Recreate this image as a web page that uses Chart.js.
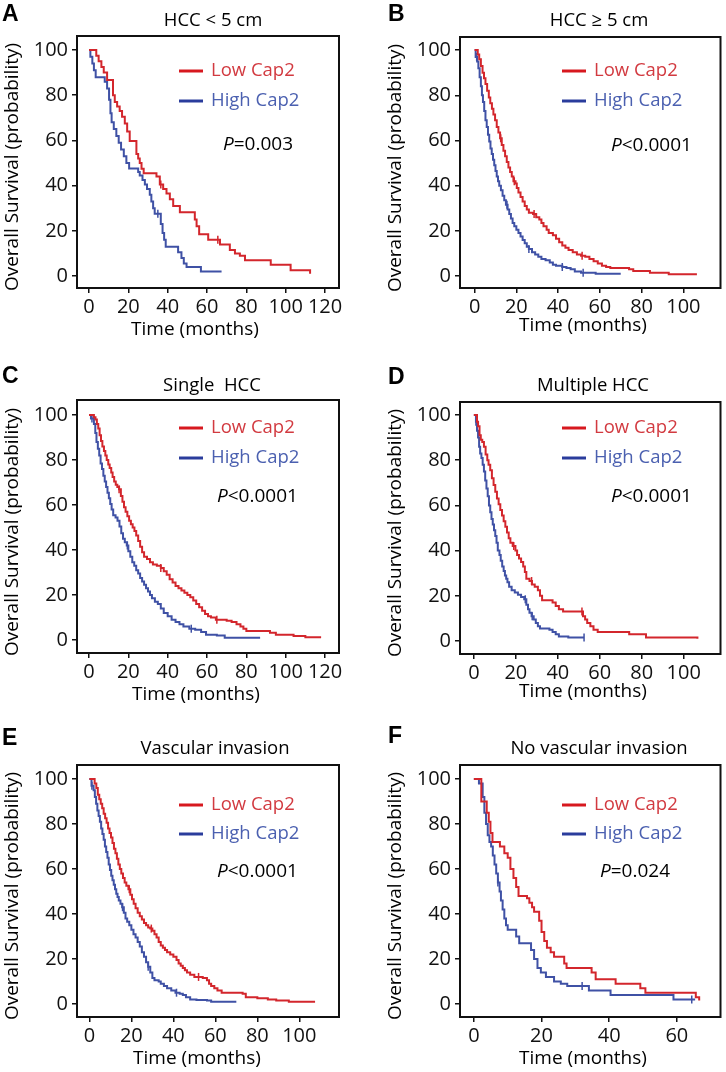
<!DOCTYPE html>
<html>
<head>
<meta charset="utf-8">
<script src="https://cdn.jsdelivr.net/npm/chart.js@4.4.1/dist/chart.umd.min.js"></script>
<style>
  body { margin: 0; background: #fff; }
  #wrap { position: relative; width: 726px; height: 1072px; }
  canvas { position: absolute; }
</style>
</head>
<body>
<div id="wrap">
  <canvas id="pA" width="363" height="357" style="left:0;top:0"></canvas>
  <canvas id="pB" width="363" height="357" style="left:363px;top:0"></canvas>
  <canvas id="pC" width="363" height="357" style="left:0;top:357px"></canvas>
  <canvas id="pD" width="363" height="357" style="left:363px;top:357px"></canvas>
  <canvas id="pE" width="363" height="358" style="left:0;top:714px"></canvas>
  <canvas id="pF" width="363" height="358" style="left:363px;top:714px"></canvas>
</div>
<script>
// ===============================
// DATA (months, survival %)
// ===============================
const yTicks = [0, 20, 40, 60, 80, 100];
const xTicks120 = [0, 20, 40, 60, 80, 100, 120];
const xTicks100 = [0, 20, 40, 60, 80, 100];
const xTicks60 = [0, 20, 40, 60];

// A: HCC < 5 cm
const aLowT = [0, 3.7, 4.9, 6.3, 7.5, 9.2, 12.2, 13.1, 14.3, 15.6, 16.8, 18.2, 19.4, 20.7, 24.1, 25, 25.8, 26.7, 27.8, 34.3, 36, 37.7, 39.4, 41.1, 42.8, 46.2, 53.8, 54.7, 56, 60.6, 66.6, 71.6, 74.2, 76.7, 79.3, 92.4, 102.5, 112.4];
const aLowS = [100, 97.5, 95, 92.5, 90, 86.7, 80, 77, 75, 73, 70.5, 67.5, 64, 59.7, 54, 52, 50, 47.5, 45.5, 44, 40.5, 38.5, 36.5, 34, 31, 28.2, 25, 22, 18.5, 16, 14, 11.5, 10, 9, 7, 5, 2.5, 1];
const aLowCens = [36.5, 65.5];
const aHighT = [0, 0.7, 1.7, 2.5, 3.4, 8, 9.2, 10.2, 10.9, 11.5, 12.6, 13.9, 15.1, 16.3, 17.7, 19, 20.4, 25, 25.8, 27.2, 28.4, 29.5, 30.9, 31.7, 32.6, 33.4, 36.5, 37.4, 38.2, 39, 45.3, 47, 48.2, 49.6, 56.9, 67.4];
const aHighS = [100, 97, 94, 91, 88, 86, 83, 78, 72, 68, 65, 62, 59, 56, 53, 50, 47.6, 46, 44.5, 42.5, 40.5, 38.5, 36, 33, 30, 27.5, 23, 19, 16, 13, 10.5, 8, 5.5, 4, 2, 2];
const aHighCens = [35];

// B: HCC >= 5 cm
const bLowT = [0, 1, 1.5, 2.2, 3, 3.8, 4.5, 5.2, 6, 6.8, 7.5, 8.3, 9, 9.8, 10.6, 11.4, 12.2, 13, 13.8, 14.6, 15.4, 16.2, 17, 17.8, 18.6, 19.6, 20.2, 21, 22, 23, 24, 25, 26, 28, 29.5, 31, 32, 33, 34.5, 35.5, 37.5, 39, 40.5, 42, 43.5, 45, 47, 49, 51, 53, 55, 57, 59, 61, 63, 65, 74, 76, 84, 93, 106.5];
const bLowS = [100, 100, 98, 96, 93, 90, 87.5, 85, 82, 79, 76.5, 74, 71.5, 69, 66, 63.5, 61, 58, 55.5, 53, 50.5, 48, 46, 44, 42, 41, 39, 37, 35, 33, 31, 29.5, 28, 27.5, 26, 25, 23.5, 22, 20.5, 19, 18, 16.5, 15, 13.5, 12.5, 11.5, 10.5, 9.5, 9, 8.5, 7.5, 6.5, 5.5, 4.5, 4, 3.5, 3, 2.2, 1.5, 0.8, 0.8];
const bLowCens = [12.5, 19, 28.5, 51.5];
const bHighT = [0, 0.5, 1.2, 1.8, 2.4, 3, 3.5, 4, 4.6, 5.2, 5.8, 6.4, 7, 7.6, 8.2, 8.8, 9.4, 10, 10.6, 11.2, 11.8, 12.6, 13.4, 14.2, 15, 15.8, 16.6, 17.4, 18.2, 19, 20, 21, 22, 23, 24, 25, 26, 27.5, 29, 30.5, 32, 34, 36, 37.5, 39, 42, 44, 46, 48, 51, 58, 70];
const bHighS = [100, 97, 95, 92, 88, 84, 80, 77, 73, 69, 66, 62.5, 59.5, 56.5, 54, 51.5, 49, 46.5, 44, 42, 40, 38, 35.5, 33.5, 31.5, 29.5, 27.5, 25.5, 23.5, 22, 20.5, 19, 17.5, 16, 14.5, 13, 12, 10.5, 9.5, 8.5, 7.5, 7, 6, 5, 4.5, 4, 3.5, 3, 2, 1.5, 1, 1];
const bHighCens = [1, 15.5, 26, 42, 52];

// C: Single HCC
const cLowT = [0, 2.5, 3.3, 4, 4.7, 5.4, 6.1, 6.8, 7.6, 8.3, 9, 9.8, 10.5, 11.3, 12, 12.8, 13.6, 14.4, 15.3, 16.2, 17, 17.8, 18.6, 19.5, 20.4, 21.3, 22.2, 23.1, 24, 25, 26, 27, 28, 29.5, 31, 32.5, 34.5, 36.5, 38, 39.5, 41, 42.5, 44, 45.5, 47, 48.5, 50, 51.5, 53, 54.5, 56, 57.5, 59, 60.5, 62, 64.5, 70, 72.5, 75, 77, 78.5, 80, 92, 95, 104, 110, 117.5];
const cLowS = [100, 99, 98, 96, 94, 91, 88.5, 86, 84, 82, 80, 78, 76.5, 74.5, 72.5, 70.5, 69, 68, 67, 64, 61.5, 59, 57, 55, 53, 51.5, 50, 48.5, 46.5, 44, 41.5, 39, 37, 36, 34.5, 33.5, 33, 32, 30.5, 29, 27, 25.5, 24, 23, 22, 21, 20, 19, 17.5, 16, 14.5, 13, 11.5, 10.5, 10, 9, 8.5, 8, 7, 6, 5, 4, 3.2, 2.3, 1.8, 1.2, 0.8];
const cLowCens = [15.3, 36.5, 65];
const cHighT = [0, 1, 2.5, 3.2, 3.8, 4.5, 5.2, 5.9, 6.6, 7.3, 8, 8.7, 9.4, 10.1, 10.8, 11.5, 12.3, 13.5, 14.5, 15.5, 16.4, 17.3, 18.2, 19.2, 20, 21, 22, 23, 24, 25, 26, 27, 28, 29, 30, 31, 32, 33.5, 35, 36.5, 38, 40, 42, 44, 46, 48, 51, 54, 57, 59.5, 65, 69, 87];
const cHighS = [100, 98.5, 96, 92, 88, 85, 82, 78.5, 76, 73, 70.5, 68, 65.5, 63, 60.5, 58, 55.5, 54.5, 53, 50.5, 47.5, 45, 43.5, 42, 39.5, 37, 34.5, 33, 31, 29.5, 27.5, 26, 24.5, 23, 21.5, 20, 18.5, 17, 16, 14, 12, 10.5, 9, 8, 7, 6, 5, 4.5, 3.5, 2.3, 2, 1, 1];
const cHighCens = [1.5, 19.5, 52];

// D: Multiple HCC
const dLowT = [0, 1.5, 2, 2.7, 3.3, 4, 4.8, 5.6, 6.4, 7, 7.8, 8.6, 9.4, 10.2, 11, 11.8, 12.6, 13.4, 14.2, 15, 15.8, 16.6, 17.4, 18.5, 19.8, 20.6, 21.5, 22.5, 23.5, 24.3, 25, 26.5, 27.7, 29, 30.5, 31.5, 32.5, 37.5, 39, 40.5, 42.5, 52, 53, 54, 55.5, 57, 59, 74, 82, 106.5];
const dLowS = [100, 97, 95, 91, 89, 88, 86, 82.5, 80, 78, 75.5, 72, 69, 66, 63, 60.5, 58, 55.5, 53, 50.5, 48, 45.5, 43.5, 42, 40, 38, 36.5, 35, 33, 30.5, 27.5, 26.5, 25, 24, 22.5, 20, 18, 17, 15.5, 14, 13, 11, 9.5, 8, 6.5, 5, 4, 3, 1.5, 1];
const dLowCens = [19, 27.5, 51.5];
const dHighT = [0, 1, 1.5, 2, 2.5, 3, 3.6, 4.2, 4.8, 5.4, 6, 6.6, 7.2, 7.8, 8.4, 9, 9.6, 10.2, 10.8, 11.4, 12.2, 12.8, 13.5, 14.2, 14.8, 15.4, 16, 16.8, 18, 19.5, 21, 22.5, 24, 25, 25.8, 26.5, 27.5, 28.5, 29.5, 30.5, 31.5, 36, 37.5, 39, 40.5, 45, 52.5];
const dHighS = [100, 97, 93, 90, 86, 83, 81, 78, 75, 71, 67.5, 64, 60, 57, 54, 51.5, 49, 46.5, 43.5, 40, 38, 35.5, 33, 31, 29, 27.5, 26, 24, 22.5, 21.5, 20.5, 19.5, 18.5, 16, 14, 12.5, 11, 9.5, 8, 6.5, 5.5, 5, 4, 3, 2, 1.5, 1.5];
const dHighCens = [1, 24.5, 27.8, 52.5];

// E: Vascular invasion
const eLowT = [0, 2.5, 3.3, 4, 4.7, 5.4, 6.1, 6.8, 7.5, 8.2, 8.9, 9.6, 10.3, 11, 11.7, 12.4, 13.1, 13.8, 14.5, 15.2, 16, 16.8, 17.6, 18.6, 19.5, 20.3, 21.1, 22, 23, 24, 25, 26, 27, 28, 29, 30, 31, 32, 33, 34, 35, 36, 37, 38.5, 40, 41.5, 42.5, 43.5, 44.5, 45.5, 46.5, 48, 50, 54, 56, 57, 58, 59.5, 61, 63, 73, 74.5, 80, 85, 89, 95, 107.5];
const eLowS = [100, 98, 96, 93, 91, 89, 87, 84.5, 82.5, 80.5, 78, 76, 74, 71.5, 69, 67, 64.5, 62, 60, 58, 56, 54, 52.5, 51, 48.5, 46.5, 44.5, 42.5, 40.5, 39, 37.5, 36, 35, 34, 33.5, 32.5, 31, 29.5, 27.5, 26, 25, 24, 23, 22, 21, 19.5, 18, 17, 16, 15, 14, 13, 12, 11.5, 10.5, 9, 8, 7, 6, 5, 4.5, 3, 2.5, 2, 1.5, 1, 1];
const eLowCens = [19, 29.5, 52];
const eHighT = [0, 1, 2, 2.6, 3.2, 3.8, 4.4, 5, 5.6, 6.2, 6.8, 7.4, 8, 8.6, 9.2, 9.8, 10.4, 11, 11.6, 12.2, 12.8, 13.4, 14, 14.8, 15.6, 16.4, 17.2, 18, 19, 20, 21, 22, 23, 24, 25, 26, 27, 28, 29, 30, 31, 33, 34, 35.5, 37, 39, 41, 43, 44.5, 46, 48, 51, 56, 58, 70];
const eHighS = [100, 97, 95, 92, 89, 86, 83.5, 81, 78, 75.5, 73, 70, 67.5, 65, 62, 59.5, 57, 55, 53, 51, 49, 47.5, 46, 44.5, 43, 40.5, 38, 36.5, 35, 33, 31, 29.5, 27.5, 25.5, 23, 21, 18.5, 16.5, 14, 11.5, 10.5, 10, 9, 8, 7, 6, 5, 4.5, 4, 3, 2, 1.8, 1.5, 1, 1];
const eHighCens = [1.2, 15.8, 28, 41.5];

// F: No vascular invasion
const fLowT = [0, 2.2, 3.8, 4.4, 4.9, 5.5, 7.7, 9, 10, 10.8, 11.7, 12.5, 13.2, 15.7, 16.4, 17.2, 17.8, 19.3, 20, 20.8, 21.6, 22.7, 23.7, 26.7, 27.4, 34.8, 36, 41.9, 49.2, 50.7, 65.6, 66.6];
const fLowS = [100, 90, 85, 81, 76, 72, 70, 67, 65, 60, 56, 52, 48, 47, 45, 43, 41, 37, 32, 28, 25, 23, 21, 18, 16, 14, 11, 9, 7, 5, 3, 1.5];
const fLowCens = [];
const fHighT = [0, 1.5, 2.6, 3.1, 3.6, 4.1, 4.6, 5.1, 5.6, 6.1, 6.6, 7.1, 7.6, 8, 8.5, 9, 9.5, 10, 12.5, 13.4, 16.9, 17.8, 18.8, 19.8, 21.3, 23.7, 25.7, 27.6, 34, 40.4, 59, 65.4];
const fHighS = [100, 98, 92, 85, 80, 75, 72, 70, 66, 62, 58, 54, 50, 46, 42, 38, 35, 33, 30, 27, 24, 20, 16, 14, 12, 10, 9, 8, 6, 4, 2, 2];
const fHighCens = [7.1, 32, 64.4];

// ===============================
// HELPERS
// ===============================
const RED = "#d3262c", BLUE = "#3f51a5";
const FONT = "'Open Sans', 'Noto Sans', sans-serif";

const km = (T, S) => T.map((t, i) => ({ x: t, y: S[i] }));
// censor marks sit on the curve: look up the step value at time c
const cens = (T, S, C) => C.map(c => {
  let y = S[0];
  T.forEach((t, i) => { if (t <= c) y = S[i]; });
  return { x: c, y };
});

// ===============================
// FRAME + TEXT PLUGIN
// ===============================
const frameText = {
  id: "frameText",
  afterDraw(chart, _a, o) {
    const { ctx, chartArea: a } = chart;
    ctx.save();
    ctx.strokeStyle = "#111";
    ctx.lineWidth = 2;
    ctx.strokeRect(a.left, a.top, a.width, a.height);

    ctx.textBaseline = "middle";
    ctx.fillStyle = "#000";
    ctx.textAlign = "left";
    ctx.font = "bold 23px 'Liberation Sans', Arial, sans-serif";
    ctx.fillText(o.letter, o.lx, o.ly);

    ctx.textAlign = "center";
    ctx.font = "18.5px " + FONT;
    ctx.fillText(o.title, o.tx, o.ty);

    ctx.font = "19px " + FONT;
    ctx.fillText("Time (months)", o.xtx, o.xty);
    ctx.save();
    ctx.translate(o.ytx, o.yty);
    ctx.rotate(-Math.PI / 2);
    ctx.fillText("Overall Survival (probability)", 0, 0);
    ctx.restore();

    // legend
    ctx.lineWidth = 3;
    [[o.ly1, "#d7181f", "#d23a40", "Low Cap2"], [o.ly2, "#2a3c9c", "#4b60b0", "High Cap2"]].forEach(([y, lc, tc, txt]) => {
      ctx.strokeStyle = lc;
      ctx.beginPath();
      ctx.moveTo(o.lgx, y);
      ctx.lineTo(o.lgx + 24, y);
      ctx.stroke();
      ctx.fillStyle = tc;
      ctx.textAlign = "left";
      ctx.font = "18.5px " + FONT;
      ctx.fillText(txt, o.lgx + 32, y);
    });

    // P value
    ctx.fillStyle = "#000";
    ctx.font = "italic 19px " + FONT;
    ctx.fillText("P", o.px, o.py);
    const w = ctx.measureText("P").width;
    ctx.font = "19px " + FONT;
    ctx.fillText(o.p, o.px + w, o.py);
    ctx.restore();
  }
};

// ===============================
// PANELS
// ===============================
function panel(id, cfg) {
  const c = document.getElementById(id);
  new Chart(c, {
    type: "scatter",
    data: {
      datasets: [
        { data: km(cfg.lowT, cfg.lowS), showLine: true, stepped: true, borderColor: RED, borderWidth: 2, pointRadius: 0 },
        { data: km(cfg.highT, cfg.highS), showLine: true, stepped: true, borderColor: BLUE, borderWidth: 2, pointRadius: 0 },
        { data: cens(cfg.lowT, cfg.lowS, cfg.lowC), pointStyle: "line", rotation: 90, pointRadius: 4, borderColor: RED, borderWidth: 1.5 },
        { data: cens(cfg.highT, cfg.highS, cfg.highC), pointStyle: "line", rotation: 90, pointRadius: 4, borderColor: BLUE, borderWidth: 1.5 }
      ]
    },
    options: {
      responsive: false,
      animation: false,
      events: [],
      layout: { padding: { top: cfg.box[1], right: c.width - cfg.box[2], left: 0, bottom: 0 } },
      plugins: {
        legend: { display: false },
        tooltip: { enabled: false },
        frameText: cfg.text
      },
      scales: {
        x: {
          type: "linear",
          min: cfg.xr[0], max: cfg.xr[1],
          afterBuildTicks: s => { s.ticks = cfg.xt.map(v => ({ value: v })); },
          afterFit: s => { s.height = c.height - cfg.box[3]; },
          grid: { drawOnChartArea: false, tickLength: 5, color: "#111", lineWidth: 1.5 },
          border: { display: false },
          ticks: { color: "#111", font: { family: FONT, size: 20 }, padding: 2, maxRotation: 0, autoSkip: false }
        },
        y: {
          type: "linear",
          min: cfg.yr[0], max: cfg.yr[1],
          afterBuildTicks: s => { s.ticks = yTicks.map(v => ({ value: v })); },
          afterFit: s => { s.width = cfg.box[0]; },
          grid: { drawOnChartArea: false, tickLength: 5, color: "#111", lineWidth: 1.5 },
          border: { display: false },
          ticks: { color: "#111", font: { family: FONT, size: 20 }, padding: 4, autoSkip: false }
        }
      }
    },
    plugins: [frameText]
  });
}

panel("pA", {
  lowT: aLowT, lowS: aLowS, lowC: aLowCens, highT: aHighT, highS: aHighS, highC: aHighCens,
  box: [77, 36, 339, 288], xr: [-6.1, 127.1], yr: [-5.3, 106.2], xt: xTicks120,
  text: { letter: "A", lx: 2, ly: 15, title: "HCC < 5 cm", tx: 213, ty: 21, xtx: 195, xty: 330, ytx: 13, yty: 167,
          lgx: 179, ly1: 71, ly2: 101, px: 223, py: 145, p: "=0.003" }
});
panel("pB", {
  lowT: bLowT, lowS: bLowS, lowC: bLowCens, highT: bHighT, highS: bHighS, highC: bHighCens,
  box: [97, 37, 359, 288], xr: [-7, 117.8], yr: [-5.3, 105.8], xt: xTicks100,
  text: { letter: "B", lx: 25, ly: 15, title: "HCC \u2265 5 cm", tx: 236, ty: 21, xtx: 220, xty: 326, ytx: 33, yty: 168,
          lgx: 199, ly1: 71, ly2: 101, px: 248, py: 146, p: "<0.0001" }
});
panel("pC", {
  lowT: cLowT, lowS: cLowS, lowC: cLowCens, highT: cHighT, highS: cHighS, highC: cHighCens,
  box: [77, 43, 339, 296], xr: [-6.1, 127.1], yr: [-5.8, 106.7], xt: xTicks120,
  text: { letter: "C", lx: 2, ly: 20, title: "Single  HCC", tx: 212, ty: 29, xtx: 196, xty: 338, ytx: 13, yty: 175,
          lgx: 179, ly1: 71, ly2: 101, px: 217, py: 140, p: "<0.0001" }
});
panel("pD", {
  lowT: dLowT, lowS: dLowS, lowC: dLowCens, highT: dHighT, highS: dHighS, highC: dHighCens,
  box: [97, 45, 359, 297], xr: [-6.6, 117.5], yr: [-5.75, 105.75], xt: xTicks100,
  text: { letter: "D", lx: 25, ly: 21, title: "Multiple HCC", tx: 230, ty: 29, xtx: 220, xty: 335, ytx: 33, yty: 176,
          lgx: 199, ly1: 71, ly2: 101, px: 248, py: 140, p: "<0.0001" }
});
panel("pE", {
  lowT: eLowT, lowS: eLowS, lowC: eLowCens, highT: eHighT, highS: eHighS, highC: eHighCens,
  box: [77, 51, 339, 303], xr: [-5.9, 118.9], yr: [-5.8, 106.2], xt: xTicks100,
  text: { letter: "E", lx: 2, ly: 25, title: "Vascular invasion", tx: 215, ty: 35, xtx: 197, xty: 345, ytx: 13, yty: 182,
          lgx: 179, ly1: 91, ly2: 120, px: 217, py: 158, p: "<0.0001" }
});
panel("pF", {
  lowT: fLowT, lowS: fLowS, lowC: fLowCens, highT: fHighT, highS: fHighS, highC: fHighCens,
  box: [97, 51, 359, 303], xr: [-4.1, 72.9], yr: [-5.8, 106.2], xt: xTicks60,
  text: { letter: "F", lx: 25, ly: 23, title: "No vascular invasion", tx: 236, ty: 35, xtx: 220, xty: 345, ytx: 33, yty: 182,
          lgx: 199, ly1: 91, ly2: 120, px: 237, py: 158, p: "=0.024" }
});
</script>
</body>
</html>
